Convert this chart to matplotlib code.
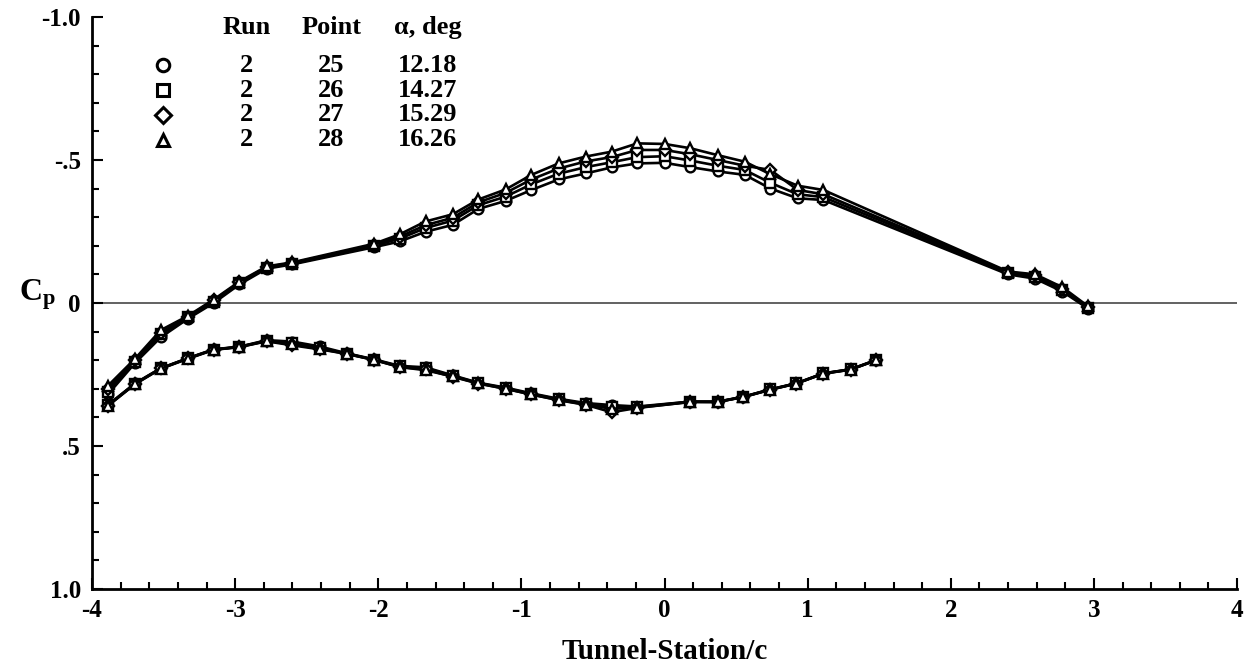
import matplotlib
matplotlib.use('Agg')
import matplotlib.pyplot as plt
from matplotlib.ticker import MultipleLocator

plt.rcParams['font.family'] = ['Liberation Serif', 'DejaVu Serif']
plt.rcParams['font.weight'] = 'bold'
plt.rcParams['axes.unicode_minus'] = False
plt.rcParams['mathtext.fontset'] = 'custom'
plt.rcParams['mathtext.rm'] = 'Liberation Serif:bold'
plt.rcParams['mathtext.bf'] = 'Liberation Serif:bold'
plt.rcParams['mathtext.it'] = 'Liberation Serif:bold'

# upper surface stations / Cp
x_upper = [-3.89, -3.70, -3.52, -3.33, -3.15, -2.97, -2.78, -2.60, -2.03, -1.85,
           -1.67, -1.48, -1.30, -1.11, -0.93, -0.74, -0.55, -0.37, -0.19, 0.00,
           0.18, 0.37, 0.56, 0.74, 0.93, 1.11, 2.40, 2.59, 2.78, 2.96]
cp_upper_25 = [0.32, 0.21, 0.12, 0.055, 0.000, -0.065, -0.120, -0.135, -0.195, -0.215,
               -0.249, -0.273, -0.329, -0.357, -0.395, -0.432, -0.453, -0.474, -0.488, -0.490,
               -0.475, -0.460, -0.448, -0.400, -0.366, -0.360, -0.100, -0.085, -0.040, 0.020]
cp_upper_26 = [0.31, 0.205, 0.11, 0.050, -0.005, -0.070, -0.123, -0.137, -0.200, -0.225,
               -0.262, -0.288, -0.342, -0.372, -0.415, -0.452, -0.475, -0.492, -0.510, -0.513,
               -0.498, -0.480, -0.465, -0.420, -0.380, -0.370, -0.105, -0.092, -0.045, 0.018]
cp_upper_27 = [0.30, 0.20, 0.105, 0.048, -0.010, -0.072, -0.126, -0.140, -0.203, -0.232,
               -0.272, -0.298, -0.352, -0.385, -0.432, -0.470, -0.495, -0.510, -0.535, -0.535,
               -0.520, -0.500, -0.480, -0.465, -0.395, -0.380, -0.108, -0.097, -0.050, 0.015]
cp_upper_28 = [0.29, 0.195, 0.095, 0.045, -0.012, -0.075, -0.128, -0.142, -0.207, -0.240,
               -0.285, -0.310, -0.362, -0.397, -0.448, -0.488, -0.512, -0.529, -0.558, -0.556,
               -0.541, -0.517, -0.494, -0.450, -0.410, -0.395, -0.110, -0.100, -0.055, 0.012]

# lower surface stations / Cp
x_lower = [-3.89, -3.70, -3.52, -3.33, -3.15, -2.97, -2.78, -2.60, -2.41, -2.22,
           -2.03, -1.85, -1.67, -1.48, -1.30, -1.11, -0.93, -0.74, -0.55, -0.37,
           -0.19, 0.18, 0.37, 0.55, 0.74, 0.92, 1.11, 1.30, 1.48]
cp_lower_25 = [0.357, 0.281, 0.228, 0.193, 0.162, 0.153, 0.130, 0.135, 0.152, 0.176,
               0.197, 0.220, 0.225, 0.253, 0.279, 0.296, 0.316, 0.335, 0.350, 0.357,
               0.362, 0.345, 0.345, 0.328, 0.302, 0.281, 0.246, 0.232, 0.199]
cp_lower_26 = [0.358, 0.282, 0.229, 0.193, 0.163, 0.153, 0.132, 0.140, 0.157, 0.177,
               0.198, 0.222, 0.228, 0.255, 0.280, 0.298, 0.318, 0.337, 0.353, 0.365,
               0.364, 0.345, 0.346, 0.328, 0.302, 0.281, 0.246, 0.232, 0.199]
cp_lower_27 = [0.359, 0.283, 0.229, 0.194, 0.163, 0.154, 0.134, 0.148, 0.162, 0.178,
               0.199, 0.224, 0.232, 0.258, 0.282, 0.300, 0.320, 0.340, 0.356, 0.382,
               0.367, 0.346, 0.346, 0.329, 0.303, 0.282, 0.247, 0.233, 0.200]
cp_lower_28 = [0.360, 0.284, 0.230, 0.195, 0.164, 0.154, 0.133, 0.145, 0.160, 0.178,
               0.199, 0.224, 0.235, 0.257, 0.281, 0.300, 0.320, 0.339, 0.355, 0.370,
               0.366, 0.346, 0.346, 0.329, 0.303, 0.282, 0.247, 0.233, 0.200]

runs = ['2', '2', '2', '2']
points = ['25', '26', '27', '28']
alphas = ['12.18', '14.27', '15.29', '16.26']
markers = ['o', 's', 'D', '^']
upper_sets = [cp_upper_25, cp_upper_26, cp_upper_27, cp_upper_28]
lower_sets = [cp_lower_25, cp_lower_26, cp_lower_27, cp_lower_28]

fig = plt.figure(figsize=(12.54, 6.65), dpi=100)
ax = fig.add_axes([0.0734, 0.1143, 0.9131, 0.8602])

ax.axhline(0, color='#555555', lw=1.3, zorder=1)

for m, up, lo in zip(markers, upper_sets, lower_sets):
    ms = 6.0 if m == 'D' else 7.0
    for xs, ys in ((x_upper, up), (x_lower, lo)):
        ax.plot(xs, ys, color='black', lw=1.9, marker=m, ms=ms,
                mfc='white', mec='black', mew=1.7, zorder=3)

ax.set_xlim(-4, 4)
ax.set_ylim(1.0, -1.0)
ax.xaxis.set_major_locator(MultipleLocator(1))
ax.xaxis.set_minor_locator(MultipleLocator(0.2))
ax.set_yticks([-1.0, -0.5, 0, 0.5, 1.0])
ax.set_yticklabels(['-1.0', '-.5', '0', '.5', '1.0'])
ax.yaxis.set_minor_locator(MultipleLocator(0.1))
ax.tick_params(which='both', direction='in', labelsize=18, width=1.5)
ax.tick_params(which='major', length=8)
ax.tick_params(which='minor', length=5)
ax.tick_params(axis='x', pad=7)
ax.tick_params(axis='y', pad=8)
for s in ['top', 'right']:
    ax.spines[s].set_visible(False)
for s in ['left', 'bottom']:
    ax.spines[s].set_linewidth(2)

ax.set_xlabel('Tunnel-Station/c', fontsize=21, fontweight='bold', labelpad=12)
ax.set_ylabel(r'$\mathbf{C_p}$', fontsize=23, rotation=0)
ax.yaxis.set_label_coords(-0.048, 0.485)

# legend table
col_sym, col_run, col_pt, col_al = 0.062, 0.135, 0.209, 0.293
head_y = 0.981
row_y = [0.916, 0.872, 0.829, 0.785]
ax.text(col_run, head_y, 'Run', transform=ax.transAxes, ha='center', va='center', fontsize=19)
ax.text(col_pt, head_y, 'Point', transform=ax.transAxes, ha='center', va='center', fontsize=19)
ax.text(col_al, head_y, 'α, deg', transform=ax.transAxes, ha='center', va='center', fontsize=19)
for i in range(4):
    ms = 8 if markers[i] == 'D' else 9
    ax.plot([col_sym], [row_y[i]], transform=ax.transAxes, marker=markers[i], ms=ms,
            mfc='white', mec='black', mew=2.2, ls='none', clip_on=False)
    ax.text(col_run, row_y[i], runs[i], transform=ax.transAxes, ha='center', va='center', fontsize=19)
    ax.text(col_pt, row_y[i], points[i], transform=ax.transAxes, ha='center', va='center', fontsize=19)
    ax.text(col_al, row_y[i], alphas[i], transform=ax.transAxes, ha='center', va='center', fontsize=19)

fig.savefig('out.png', dpi=100)
